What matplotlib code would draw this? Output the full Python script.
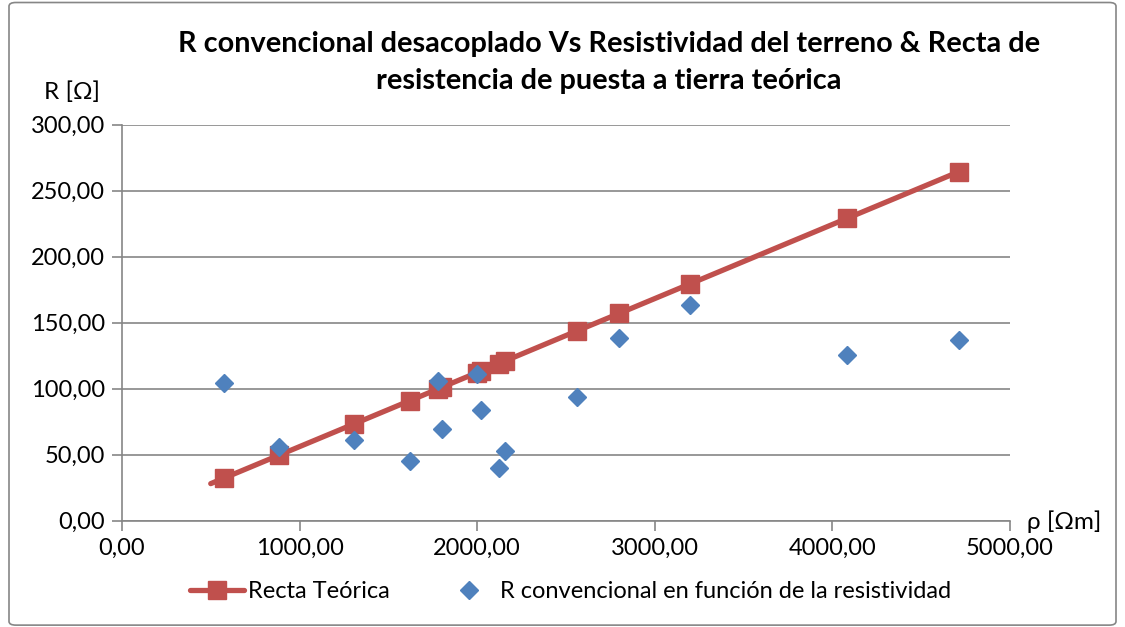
import matplotlib
matplotlib.use("Agg")
import matplotlib.pyplot as plt
from matplotlib.patches import FancyBboxPatch
from matplotlib.ticker import FuncFormatter

plt.rcParams['font.family'] = ['Lato', 'DejaVu Sans']

# resistividad del terreno [ohm m]
rho = [575, 887, 1308, 1620, 1778, 1803, 2000, 2019, 2122, 2157, 2564, 2799, 3200, 4082, 4711]
# R convencional medida [ohm]
r_conv = [104.1, 56.1, 61.1, 45.2, 106.1, 69.5, 111.1, 83.9, 40.2, 52.8, 94.0, 138.2, 163.4, 125.5, 136.9]

# recta teorica (el primer punto no lleva marcador)
rho_teo = [500, 575, 887, 1308, 1620, 1778, 1803, 2000, 2019, 2122, 2157, 2564, 2799, 3200, 4082, 4711]
r_teo = [28.1, 32.3, 49.8, 73.4, 90.9, 99.7, 101.2, 112.2, 113.3, 119.1, 121.0, 143.9, 157.0, 179.5, 229.0, 264.3]

red = '#C0504D'
blue = '#4F81BD'
grey = '#868686'

fig = plt.figure(figsize=(11.25, 6.27), dpi=100)
ax = fig.add_axes([0.1084, 0.1695, 0.7893, 0.6316])

ax.plot(rho_teo, r_teo, '-s', color=red, lw=3.8, markersize=13.5,
        markevery=list(range(1, len(rho_teo))), label='Recta Teórica',
        solid_capstyle='round', zorder=3)
ax.plot(rho, r_conv, 'D', color=blue, markersize=9.5, linestyle='none',
        label='R convencional en función de la resistividad', zorder=4)

ax.set_xlim(0, 5000)
ax.set_ylim(0, 300)
ax.set_xticks(range(0, 5001, 1000))
ax.set_yticks(range(0, 301, 50))
fmt = FuncFormatter(lambda v, p: "{:.2f}".format(v).replace('.', ','))
ax.xaxis.set_major_formatter(fmt)
ax.yaxis.set_major_formatter(fmt)
ax.tick_params(labelsize=17, colors=grey, labelcolor='black', length=7, width=1.2, pad=5)
ax.grid(axis='y', color=grey, lw=1.2)
ax.set_axisbelow(True)
for s in ['top', 'right']:
    ax.spines[s].set_visible(False)
for s in ['left', 'bottom']:
    ax.spines[s].set_color(grey)
    ax.spines[s].set_linewidth(1.2)

fig.text(0.064, 0.853, 'R [Ω]', fontsize=17.5, ha='center', va='center')
fig.text(0.946, 0.168, 'ρ [Ωm]', fontsize=17.5, ha='center', va='center')

fig.text(0.541, 0.900, 'R convencional desacoplado Vs Resistividad del terreno & Recta de\n'
         'resistencia de puesta a tierra teórica', fontsize=20.8, fontweight='bold',
         ha='center', va='center', linespacing=1.5)

fig.legend(loc='center', bbox_to_anchor=(0.507, 0.056), ncol=2, frameon=False,
           fontsize=17, handlelength=2.3, columnspacing=2.2, handletextpad=0.15)

border = FancyBboxPatch((0.008, 0.003), 0.984, 0.993, boxstyle='round,pad=0,rounding_size=0.006',
                        transform=fig.transFigure, fill=False, edgecolor=grey, lw=1.2)
fig.patches.append(border)

fig.savefig('out.png', dpi=100)
